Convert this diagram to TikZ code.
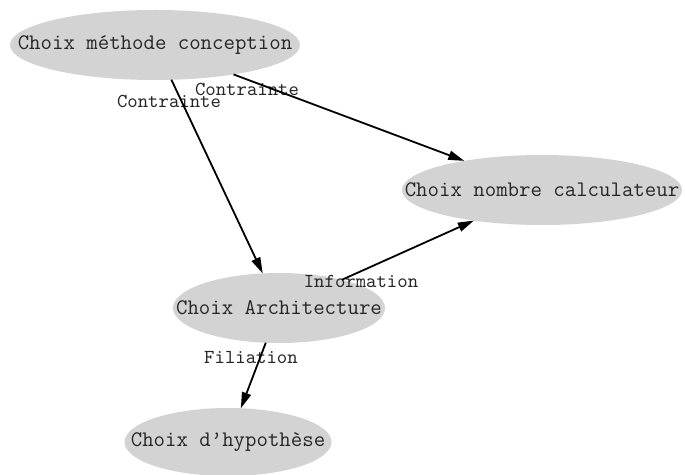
\documentclass[tikz,border=0pt]{standalone}
\usepackage{fontspec}
\usepackage{xcolor}
\usepackage{tikz}
\usetikzlibrary{shapes.geometric,arrows.meta,positioning}

\definecolor{nodegray}{HTML}{D3D3D3}
% text kept out of the shape's size, so the ellipse is set by minimum width/height
\newcommand{\flattxt}[1]{\makebox[0pt]{#1}}

\begin{document}
\begin{tikzpicture}[
    x=0.5pt, y=-0.5pt,
    choix/.style={ellipse, fill=nodegray, draw=none, inner sep=0pt, outer sep=0pt, minimum height=35pt, text=black!85, font=\ttfamily\fontsize{11.1}{12}\selectfont},
    lbl/.style={inner sep=0pt, text=black!85, font=\ttfamily\fontsize{9.9}{11}\selectfont},
    arrow/.style={-{Triangle[length=8pt, width=4.6pt]}, line width=0.9pt, draw=black}
]
    \useasboundingbox (0,0) rectangle (685,475);

    \node [choix, minimum width=145pt] (methode) at (155,45) {\flattxt{Choix méthode conception}};
    \node [choix, minimum width=140pt] (nombre) at (542,190) {\flattxt{Choix nombre calculateur}};
    \node [choix, minimum width=106pt] (archi) at (279,308) {\flattxt{Choix Architecture}};
    \node [choix, minimum width=103.5pt, minimum height=34pt] (hypo) at (228,442) {\flattxt{Choix d’hypothèse}};

    \node [lbl] (l1) at (169,101) {Contrainte};
    \node [lbl] (l2) at (247,89) {Contrainte};
    \node [lbl] (l3) at (361,281) {Information};
    \node [lbl] (l4) at (251,358) {Filiation};

    \draw [arrow] (methode) -- (archi);
    \draw [arrow] (methode) -- (nombre);
    \draw [arrow] (archi) -- (nombre);
    \draw [arrow] (archi) -- (hypo);
\end{tikzpicture}
\end{document}
